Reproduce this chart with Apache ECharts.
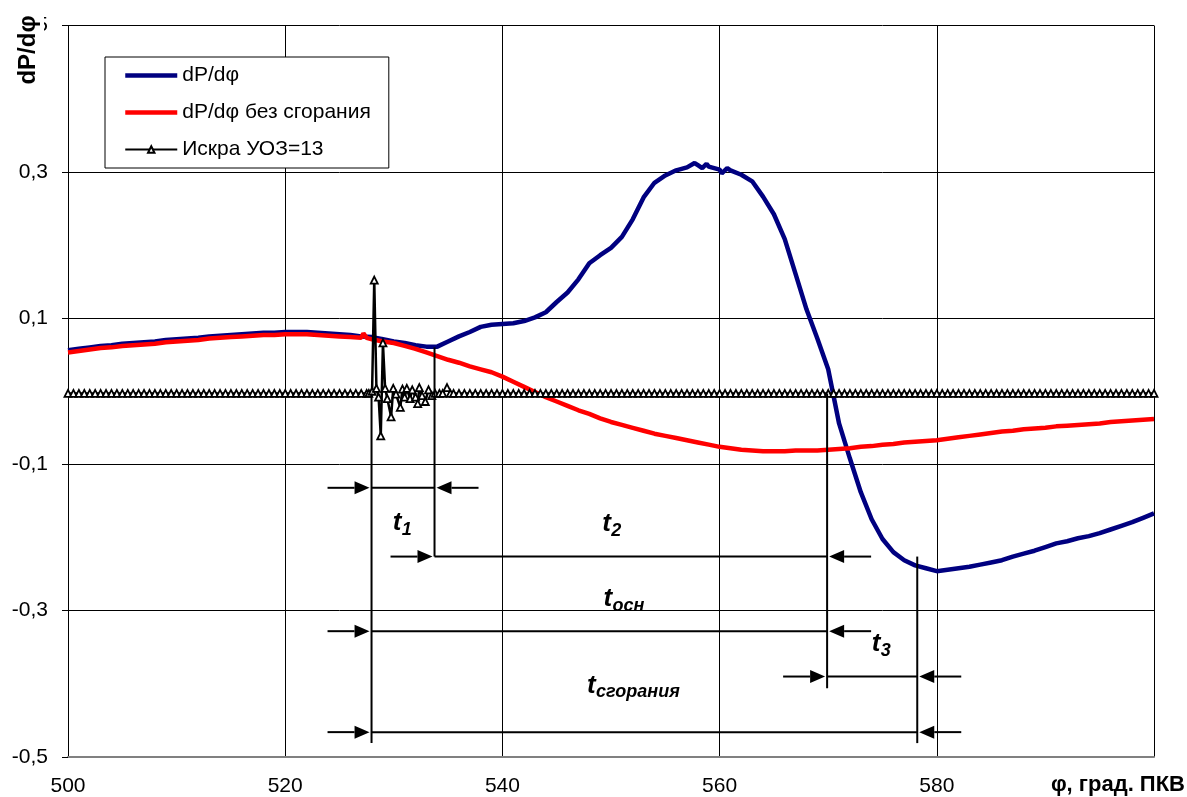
<!DOCTYPE html>
<html>
<head>
<meta charset="utf-8">
<script src="https://cdn.jsdelivr.net/npm/echarts@6/dist/echarts.min.js"></script>
<style>
  html, body { margin: 0; padding: 0; background: #fff; }
  #chart { width: 1187px; height: 797px; }
</style>
</head>
<body>
<div id="chart"></div>
<script>
// Rate of pressure rise vs crank angle, with and without combustion, and the spark signal.

// dP/dφ (with combustion)
const bluePhi = [
  500,501,502,503,504,505,506,507,508,509,510,511,512,513,514,515,516,517,518,519,
  520,521,522,523,524,525,526,527,528,529,530,531,532,533,534,535,536,537,538,539,
  540,541,542,543,544,545,546,547,548,549,550,551,552,553,554,555,556,557,557.7,558,
  558.4,558.8,559,560,560.2,560.7,561,562,563,564,565,566,567,568,569,570,571,572,573,574,
  575,576,577,578,579,580,581,582,583,584,585,586,587,588,589,590,591,592,593,594,
  595,596,597,598,599,600
];
const blueVal = [
  0.056,0.058,0.060,0.062,0.063,0.065,0.066,0.067,0.068,0.070,0.071,0.072,0.073,0.075,0.076,0.077,0.078,0.079,0.080,0.080,
  0.081,0.081,0.081,0.080,0.079,0.078,0.077,0.075,0.074,0.071,0.068,0.066,0.063,0.061,0.061,0.068,0.075,0.081,0.088,0.091,
  0.092,0.093,0.096,0.101,0.108,0.122,0.135,0.153,0.175,0.186,0.196,0.211,0.235,0.265,0.285,0.295,0.302,0.306,0.312,0.309,
  0.305,0.311,0.307,0.303,0.298,0.305,0.302,0.296,0.287,0.266,0.242,0.208,0.160,0.112,0.072,0.030,-0.044,-0.092,-0.138,-0.175,
  -0.202,-0.220,-0.231,-0.238,-0.242,-0.246,-0.244,-0.242,-0.240,-0.237,-0.234,-0.231,-0.226,-0.222,-0.218,-0.213,-0.208,-0.205,-0.201,-0.198,
  -0.194,-0.189,-0.184,-0.179,-0.173,-0.167
];

// dP/dφ without combustion (motoring)
const redPhi = [
  500,501,502,503,504,505,506,507,508,509,510,511,512,513,514,515,516,517,518,519,
  520,521,522,523,524,525,526,527,527.2,527.5,528,529,530,531,532,533,534,535,536,537,
  538,539,540,541,542,543,544,545,546,547,548,549,550,551,552,553,554,555,556,557,
  558,559,560,561,562,563,564,565,566,567,568,569,570,571,572,573,574,575,576,577,
  578,579,580,581,582,583,584,585,586,587,588,589,590,591,592,593,594,595,596,597,
  598,599,600
];
const redVal = [
  0.053,0.055,0.057,0.059,0.060,0.062,0.063,0.064,0.065,0.067,0.068,0.069,0.070,0.072,0.073,0.074,0.075,0.076,0.077,0.077,
  0.078,0.078,0.078,0.077,0.076,0.075,0.074,0.073,0.079,0.073,0.071,0.068,0.066,0.062,0.058,0.053,0.048,0.043,0.039,0.034,
  0.030,0.026,0.020,0.013,0.006,-0.001,-0.008,-0.014,-0.020,-0.026,-0.031,-0.037,-0.042,-0.046,-0.050,-0.054,-0.058,-0.061,-0.064,-0.067,
  -0.070,-0.073,-0.076,-0.078,-0.080,-0.081,-0.082,-0.082,-0.082,-0.081,-0.081,-0.081,-0.080,-0.079,-0.078,-0.076,-0.075,-0.073,-0.072,-0.070,
  -0.069,-0.068,-0.067,-0.065,-0.063,-0.061,-0.059,-0.057,-0.055,-0.054,-0.052,-0.051,-0.050,-0.048,-0.047,-0.046,-0.045,-0.044,-0.042,-0.041,
  -0.040,-0.039,-0.038
];

// Spark signal, ignition advance 13°
const sparkPhi = [
  500,500.5,501,501.5,502,502.5,503,503.5,504,504.5,505,505.5,506,506.5,507,507.5,508,508.5,509,509.5,
  510,510.5,511,511.5,512,512.5,513,513.5,514,514.5,515,515.5,516,516.5,517,517.5,518,518.5,519,519.5,
  520,520.5,521,521.5,522,522.5,523,523.5,524,524.5,525,525.5,526,526.5,527,527.5,
  527.7,528.0,528.2,528.4,528.6,528.8,529.0,529.2,529.4,529.75,529.95,530.2,530.6,530.8,531.0,531.2,531.5,531.7,532.0,532.2,
  532.35,532.6,532.9,533.2,533.5,533.8,534.2,534.5,534.9,535.2,
  535.5,536,536.5,537,537.5,538,538.5,539,539.5,540,540.5,541,541.5,542,542.5,543,543.5,544,544.5,545,
  545.5,546,546.5,547,547.5,548,548.5,549,549.5,550,550.5,551,551.5,552,552.5,553,553.5,554,554.5,555,
  555.5,556,556.5,557,557.5,558,558.5,559,559.5,560,560.5,561,561.5,562,562.5,563,563.5,564,564.5,565,
  565.5,566,566.5,567,567.5,568,568.5,569,569.5,570,570.5,571,571.5,572,572.5,573,573.5,574,574.5,575,
  575.5,576,576.5,577,577.5,578,578.5,579,579.5,580,580.5,581,581.5,582,582.5,583,583.5,584,584.5,585,
  585.5,586,586.5,587,587.5,588,588.5,589,589.5,590,590.5,591,591.5,592,592.5,593,593.5,594,594.5,595,
  595.5,596,596.5,597,597.5,598,598.5,599,599.5,600
];
const sparkVal = [
  -0.003,-0.003,-0.003,-0.003,-0.003,-0.003,-0.003,-0.003,-0.003,-0.003,-0.003,-0.003,-0.003,-0.003,-0.003,-0.003,-0.003,-0.003,-0.003,-0.003,
  -0.003,-0.003,-0.003,-0.003,-0.003,-0.003,-0.003,-0.003,-0.003,-0.003,-0.003,-0.003,-0.003,-0.003,-0.003,-0.003,-0.003,-0.003,-0.003,-0.003,
  -0.003,-0.003,-0.003,-0.003,-0.003,-0.003,-0.003,-0.003,-0.003,-0.003,-0.003,-0.003,-0.003,-0.003,-0.003,-0.003,
  -0.003,0.000,0.152,0.004,-0.008,-0.061,0.066,0.004,-0.010,-0.035,0.004,-0.004,-0.022,0.003,-0.008,0.004,-0.010,0.002,-0.008,-0.017,
  0.005,-0.006,-0.014,0.002,-0.006,-0.003,-0.003,-0.003,0.005,-0.003,
  -0.003,-0.003,-0.003,-0.003,-0.003,-0.003,-0.003,-0.003,-0.003,-0.003,-0.003,-0.003,-0.003,-0.003,-0.003,-0.003,-0.003,-0.003,-0.003,-0.003,
  -0.003,-0.003,-0.003,-0.003,-0.003,-0.003,-0.003,-0.003,-0.003,-0.003,-0.003,-0.003,-0.003,-0.003,-0.003,-0.003,-0.003,-0.003,-0.003,-0.003,
  -0.003,-0.003,-0.003,-0.003,-0.003,-0.003,-0.003,-0.003,-0.003,-0.003,-0.003,-0.003,-0.003,-0.003,-0.003,-0.003,-0.003,-0.003,-0.003,-0.003,
  -0.003,-0.003,-0.003,-0.003,-0.003,-0.003,-0.003,-0.003,-0.003,-0.003,-0.003,-0.003,-0.003,-0.003,-0.003,-0.003,-0.003,-0.003,-0.003,-0.003,
  -0.003,-0.003,-0.003,-0.003,-0.003,-0.003,-0.003,-0.003,-0.003,-0.003,-0.003,-0.003,-0.003,-0.003,-0.003,-0.003,-0.003,-0.003,-0.003,-0.003,
  -0.003,-0.003,-0.003,-0.003,-0.003,-0.003,-0.003,-0.003,-0.003,-0.003,-0.003,-0.003,-0.003,-0.003,-0.003,-0.003,-0.003,-0.003,-0.003,-0.003,
  -0.003,-0.003,-0.003,-0.003,-0.003,-0.003,-0.003,-0.003,-0.003,-0.003
];

// Combustion stage boundaries (crank angle) and the extent of their marker lines
const stagePhi    = [527.95, 533.75, 569.9, 578.2];
const stageTop    = [-0.003, 0.060, -0.003, -0.226];
const stageBottom = [-0.481, -0.226, -0.406, -0.481];

// Duration dimension rows: from stage, to stage, level
const spanFrom = [0, 1, 0, 2, 0];
const spanTo   = [1, 2, 2, 3, 3];
const spanVal  = [-0.132, -0.226, -0.328, -0.390, -0.466];

// Duration labels
const labelPhi = [529.9, 549.2, 549.3, 574.0, 547.8];
const labelVal = [-0.191, -0.192, -0.295, -0.356, -0.413];
const labelSub = ['1', '2', 'осн', '3', 'сгорания'];

const seriesNames = ['dP/dφ', 'dP/dφ без сгорания', 'Искра УОЗ=13'];

const FONT = '"Liberation Sans", Arial, sans-serif';
const zip = (xs, ys) => xs.map((x, i) => [x, ys[i]]);

// Marker-line segments: [x1, y1, x2, y2, kind]; kind 0 = line, 1/-1 = arrow tip pointing right/left
const markSegments = [];
stagePhi.forEach((p, i) => markSegments.push([p, stageTop[i], p, stageBottom[i], 0]));
spanVal.forEach((v, i) => {
  const a = stagePhi[spanFrom[i]], b = stagePhi[spanTo[i]];
  markSegments.push([a, v, b, v, 0]);
  markSegments.push([a, v, a, v, 1]);
  markSegments.push([b, v, b, v, -1]);
});

const ARROW = { length: 42, head: 15, half: 6.5, gap: 2 };

function renderMark(params, api) {
  const kind = api.value(4);
  const a = api.coord([api.value(0), api.value(1)]);
  const b = api.coord([api.value(2), api.value(3)]);
  if (kind === 0) {
    return { type: 'line', shape: { x1: a[0], y1: a[1], x2: b[0], y2: b[1] },
             style: { stroke: '#000', lineWidth: 2 } };
  }
  const tipX = b[0] - kind * ARROW.gap, y = b[1];
  const baseX = tipX - kind * ARROW.head;
  const tailX = tipX - kind * ARROW.length;
  return {
    type: 'group',
    children: [
      { type: 'line', shape: { x1: tailX, y1: y, x2: baseX, y2: y }, style: { stroke: '#000', lineWidth: 2 } },
      { type: 'polygon', shape: { points: [[tipX, y], [baseX, y - ARROW.half], [baseX, y + ARROW.half]] },
        style: { fill: '#000' } }
    ]
  };
}

function renderLabel(params, api) {
  const p = api.coord([api.value(0), api.value(1)]);
  const i = params.dataIndex;
  return {
    type: 'group',
    children: [
      { type: 'text', x: p[0], y: p[1] + 5,
        style: { text: 't', fontSize: 26, fontWeight: 'bold', fontStyle: 'italic', fontFamily: FONT,
                 fill: '#000', align: 'left', verticalAlign: 'bottom' } },
      { type: 'text', x: p[0] + 9, y: p[1] + 8,
        style: { text: labelSub[i], fontSize: 18, fontWeight: 'bold', fontStyle: 'italic', fontFamily: FONT,
                 fill: '#000', align: 'left', verticalAlign: 'bottom' } }
    ]
  };
}

const chart = echarts.init(document.getElementById('chart'), null, { renderer: 'canvas' });

chart.setOption({
  animation: false,
  backgroundColor: '#fff',
  textStyle: { fontFamily: FONT },
  grid: { left: 68, right: 33, top: 25.5, bottom: 40 },
  legend: {
    data: [
      { name: seriesNames[0], itemStyle: { opacity: 0 }, lineStyle: { width: 4.5 } },
      { name: seriesNames[1], itemStyle: { opacity: 0 }, lineStyle: { width: 4.5 } },
      { name: seriesNames[2], lineStyle: { width: 2 } }
    ],
    orient: 'vertical',
    left: 105, top: 57,
    backgroundColor: '#fff',
    borderColor: '#000', borderWidth: 1, borderRadius: 0,
    padding: [8, 18, 8, 18],
    itemWidth: 52, itemHeight: 8, itemGap: 16,
    textStyle: { fontSize: 21, color: '#000', fontFamily: FONT }
  },
  xAxis: {
    type: 'value', min: 500, max: 600, interval: 20,
    axisLine: { show: true, onZero: false, lineStyle: { color: '#808080', width: 2 } },
    axisTick: { show: false },
    axisLabel: { fontSize: 21, color: '#000', fontFamily: FONT, margin: 19, showMaxLabel: false },
    splitLine: { show: true, lineStyle: { color: '#000', width: 1 } }
  },
  yAxis: {
    type: 'value', min: -0.5, max: 0.5, interval: 0.2,
    axisLine: { show: true, onZero: false, lineStyle: { color: '#000', width: 1 } },
    axisTick: { show: true, length: 6, lineStyle: { color: '#000' } },
    axisLabel: { fontSize: 21, color: '#000', fontFamily: FONT, margin: 20,
                 formatter: v => v.toFixed(1).replace('.', ',') },
    splitLine: { show: true, lineStyle: { color: '#000', width: 1 } }
  },
  graphic: [
    { type: 'text', x: 28, y: 50, rotation: Math.PI / 2, z: 100,
      style: { text: 'dP/dφ', font: 'bold 24px ' + FONT, fill: '#000', align: 'center', verticalAlign: 'middle',
               backgroundColor: '#fff', padding: [4, 6, 4, 6] } },
    { type: 'text', right: 2, top: 774, z: 100,
      style: { text: 'φ, град. ПКВ', font: 'bold 22px ' + FONT, fill: '#000' } }
  ],
  series: [
    { name: seriesNames[0], type: 'line', data: zip(bluePhi, blueVal), symbol: 'none',
      lineStyle: { color: '#000080', width: 4.5 }, itemStyle: { color: '#000080' }, z: 2 },
    { name: seriesNames[1], type: 'line', data: zip(redPhi, redVal), symbol: 'none',
      lineStyle: { color: '#ff0000', width: 4.5 }, itemStyle: { color: '#ff0000' }, z: 3 },
    { name: seriesNames[2], type: 'line', data: zip(sparkPhi, sparkVal),
      symbol: 'triangle', symbolSize: 7, showSymbol: true,
      lineStyle: { color: '#000', width: 2.5 },
      itemStyle: { color: '#fff', borderColor: '#000', borderWidth: 1.8 }, z: 4 },
    { name: 'marks', type: 'custom', data: markSegments, renderItem: renderMark,
      encode: { x: 0, y: 1 }, silent: true, z: 6 },
    { name: 'labels', type: 'custom', data: zip(labelPhi, labelVal), renderItem: renderLabel,
      encode: { x: 0, y: 1 }, silent: true, z: 6 }
  ]
});
</script>
</body>
</html>
